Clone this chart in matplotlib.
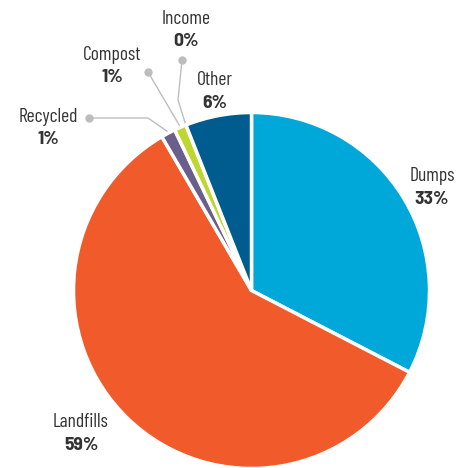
import numpy as np
import matplotlib
matplotlib.use("Agg")
import matplotlib.pyplot as plt

# waste destination shares (percent)
categories = ["Dumps", "Landfills", "Recycled", "Compost", "Income", "Other"]
shares = [32.6, 59.0, 1.3, 1.1, 0.0, 6.0]
share_labels = ["33%", "59%", "1%", "1%", "0%", "6%"]
colors = ["#00A8DA", "#F15A2B", "#6A5E8C", "#BFD630", "#FFFFFF", "#005C8F"]

W, H = 463, 468
center = (251.5, H - 290.5)
radius = 178

plt.rcParams["font.family"] = ["Barlow Condensed", "DejaVu Sans"]
fig = plt.figure(figsize=(W / 100, H / 100), dpi=100)
ax = fig.add_axes([0, 0, 1, 1])

wedges, _ = ax.pie(
    shares, colors=colors, startangle=90, counterclock=False,
    center=center, radius=radius,
    wedgeprops=dict(edgecolor="white", linewidth=2.5),
)
ax.set_xlim(0, W)
ax.set_ylim(0, H)
ax.set_aspect("equal")
ax.axis("off")

# label anchors in pixels: x centre, baseline of name line (from top)
label_pos = {
    "Dumps": (432, 181),
    "Landfills": (81, 427),
    "Recycled": (48, 122),
    "Compost": (112, 60),
    "Income": (186, 24),
    "Other": (215, 85),
}
txt = "#333333"
for name, pct in zip(categories, share_labels):
    x, y = label_pos[name]
    ax.text(x, H - y, name, ha="center", va="baseline", fontsize=14, color=txt)
    ax.text(x, H - y - 22.5, pct, ha="center", va="baseline", fontsize=14,
            fontweight="bold", color=txt, family=["Barlow Semi Condensed", "DejaVu Sans"])

# leader lines for the small slices: dot -> (elbow) -> wedge edge
leaders = {
    "Recycled": [(89, 118), (148, 118)],
    "Compost": [(148, 72)],
    "Income": [(182, 60), (178, 100)],
}
grey = "#BDBDBD"
for name, pts in leaders.items():
    w = wedges[categories.index(name)]
    ang = np.deg2rad((w.theta1 + w.theta2) / 2)
    end = (center[0] + (radius + 2) * np.cos(ang), center[1] + (radius + 2) * np.sin(ang))
    xs = [p[0] for p in pts] + [end[0]]
    ys = [H - p[1] for p in pts] + [end[1]]
    ax.plot(xs, ys, color=grey, lw=1, zorder=0)
    ax.plot(xs[0], ys[0], "o", color=grey, ms=5, zorder=1)

fig.savefig("out.png", dpi=100)
